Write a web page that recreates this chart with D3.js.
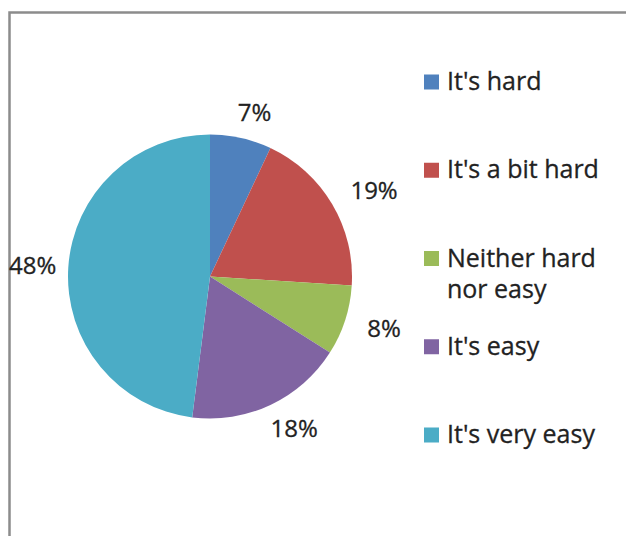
<!DOCTYPE html>
<html><head><meta charset="utf-8">
<script src="https://cdn.jsdelivr.net/npm/d3@7"></script>
<style>html,body{margin:0;padding:0;background:#fff;overflow:hidden}</style>
</head><body>
<script>
const categories = ["It's hard", "It's a bit hard", "Neither hard nor easy", "It's easy", "It's very easy"];
const values = [7, 19, 8, 18, 48];
const colors = ["#4f81bd", "#c0504d", "#9bbb59", "#8064a2", "#4bacc6"];

const W = 626, H = 536;
const svg = d3.select("body").append("svg").attr("width", W).attr("height", H);

// chart frame (clipped on right/bottom like the reference)
svg.append("rect").attr("x", 9.5).attr("y", 12.5).attr("width", 700).attr("height", 600)
  .attr("fill", "#fff").attr("stroke", "#8c8c8c").attr("stroke-width", 2.5);

const cx = 210, cy = 276.5, r = 142;
const data = categories.map((c, i) => ({cat: c, value: values[i], color: colors[i]}));
const pie = d3.pie().sort(null).value(d => d.value);
const arcs = pie(data);
const arc = d3.arc().innerRadius(0).outerRadius(r);

const g = svg.append("g").attr("transform", `translate(${cx},${cy})`);
g.selectAll("path").data(arcs).join("path")
  .attr("d", arc).attr("fill", d => d.data.color);

const total = d3.sum(values);
const fmt = v => Math.round(v / total * 100) + "%";
const labelFont = "24px 'Open Sans'";
const R = 160;
arcs.forEach(a => {
  const m = (a.startAngle + a.endAngle) / 2;
  const s = Math.sin(m), c = -Math.cos(m);
  const t = g.append("text").text(fmt(a.data.value))
    .style("font", labelFont).attr("fill", "#222")
    .attr("stroke", "#222").attr("stroke-width", 0.3)
    .attr("text-anchor", "middle");
  const bb = t.node().getBBox();
  const w = bb.width, h = 17;
  const x = s * R + s * w / 2 + 6;
  const y = c * R + c * h / 2;
  t.attr("x", x).attr("y", y + h / 2);
});

// legend
const ly = d3.scalePoint().domain(categories).range([90, 443]);
const legendX = 424;
const lg = svg.append("g");
categories.forEach((c, i) => {
  const y = ly(c);
  lg.append("rect").attr("x", legendX).attr("y", y - 15.5).attr("width", 15).attr("height", 15)
    .attr("fill", colors[i]);
  const t = lg.append("text").attr("x", legendX + 23).attr("y", y)
    .style("font", "25px 'Open Sans'").attr("fill", "#222")
    .attr("stroke", "#222").attr("stroke-width", 0.3);
  // word wrap
  const words = c.split(" ");
  let line = [], tspan = t.append("tspan").attr("x", legendX + 23).attr("y", y);
  let lineNo = 0;
  words.forEach(wd => {
    line.push(wd);
    tspan.text(line.join(" "));
    if (tspan.node().getComputedTextLength() > 170 && line.length > 1) {
      line.pop();
      tspan.text(line.join(" "));
      line = [wd];
      lineNo++;
      tspan = t.append("tspan").attr("x", legendX + 23).attr("y", y + lineNo * 31).text(wd);
    }
  });
});
</script>
</body></html>
